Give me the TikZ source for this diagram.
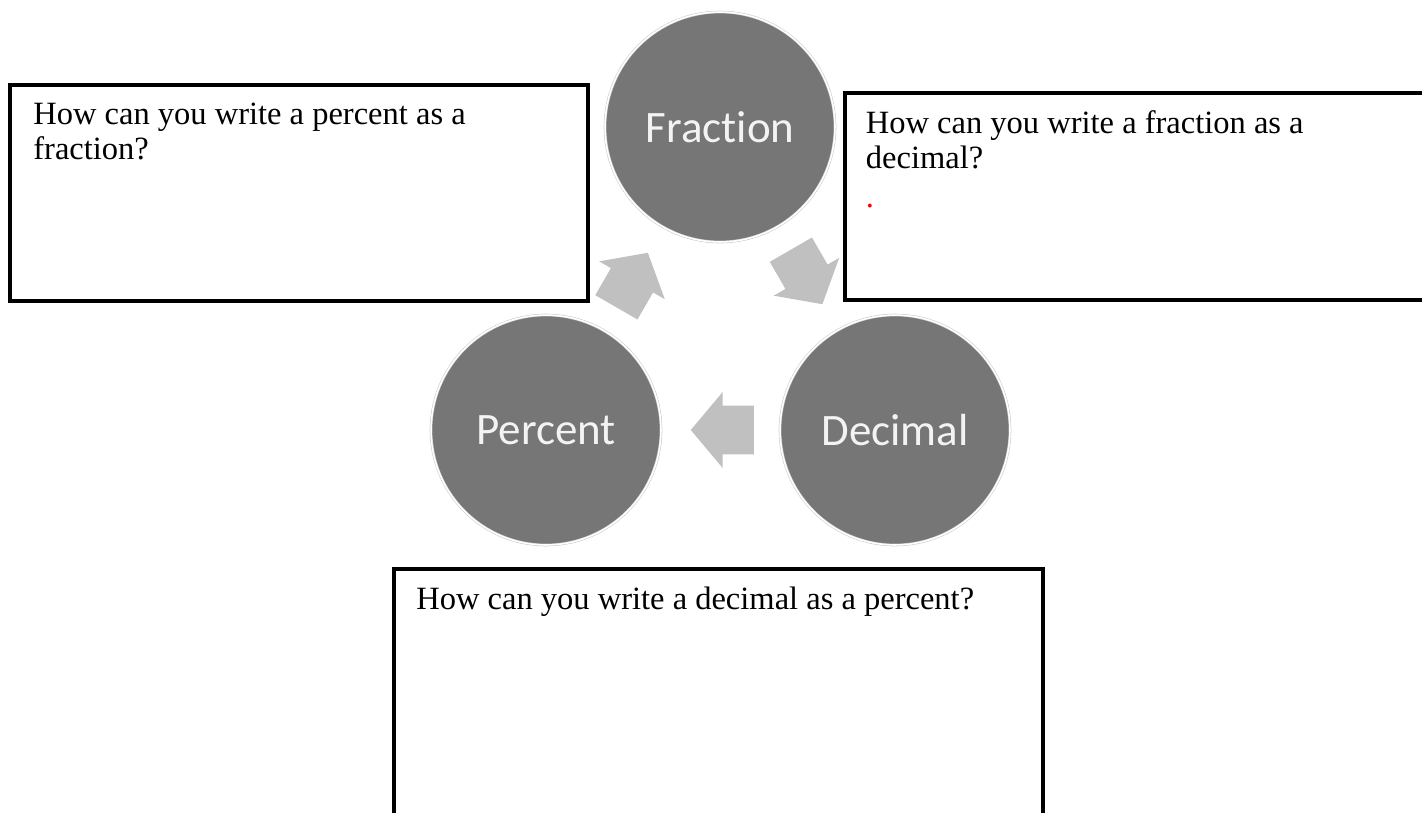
\documentclass[tikz,border=0pt]{standalone}
\usepackage{fontspec}
\setmainfont{Liberation Serif}
\newfontfamily\circfont[Ligatures=NoCommon]{Carlito}
\usetikzlibrary{positioning,calc,shapes.arrows}
\definecolor{CircGray}{RGB}{118,118,118}
\definecolor{ArrGray}{RGB}{192,192,192}
\definecolor{CircText}{RGB}{243,243,243}
\tikzset{
	circ/.style={circle, fill=CircGray, draw=black!22, double=white, line width=0.3pt,
		double distance=0.9pt, minimum size=4.6cm, inner sep=0pt, text=CircText,
		font=\circfont\fontsize{25.6}{28}\selectfont},
	qbox/.style={draw=black, line width=2.3pt, inner sep=0pt},
	qtext/.style={align=left, inner sep=0pt, font=\fontsize{18.5}{19.9}\selectfont},
	flow/.style={single arrow, fill=ArrGray, draw=none, minimum height=1.26cm,
		minimum width=1.5cm, single arrow head extend=0.27cm,
		single arrow tip angle=100, inner xsep=0pt, inner ysep=0.48cm}
}

\begin{document}
\begin{tikzpicture}[x=0.02cm, y=-0.02cm]
	\useasboundingbox (0,0) rectangle (1422,812);
	% the three forms
	\node[circ] (frac) at (720,127) {Fraction};
	\node[circ] (perc) at (546,430) {Percent};
	\node[circ] (dec) at (895,430) {Decimal};
	% arrows between them
	\node[flow, rotate=60, xshift=-0.24cm] (pf) at ($(perc)!0.5!(frac)$) {};
	\node[flow, rotate=-60, xshift=-0.24cm] (fd) at ($(frac)!0.5!(dec)$) {};
	\node[flow, rotate=180, xshift=-0.24cm] (dp) at ($(dec)!0.5!(perc)$) {};
	% question boxes
	\node[qbox, minimum width=11.56cm, minimum height=4.32cm] (lbox) at (299,193) {};
	\node[qtext, below right=0.39cm and 0.5cm of lbox.north west] (lq)
	{How can you write a percent as a\\ fraction?};
	\node[qbox, minimum width=12.3cm, minimum height=4.14cm] (rbox) at (1152,196.5) {};
	\node[qtext, below right=0.39cm and 0.46cm of rbox.north west] (rq)
	{How can you write a fraction as a\\ decimal?\\[2pt] {\color{red}.}};
	\node[qbox, minimum width=12.98cm, minimum height=5.42cm] (bbox) at (718.5,704.5) {};
	\node[qtext, below right=0.39cm and 0.48cm of bbox.north west] (bq)
	{How can you write a decimal as a percent?};
\end{tikzpicture}
\end{document}
